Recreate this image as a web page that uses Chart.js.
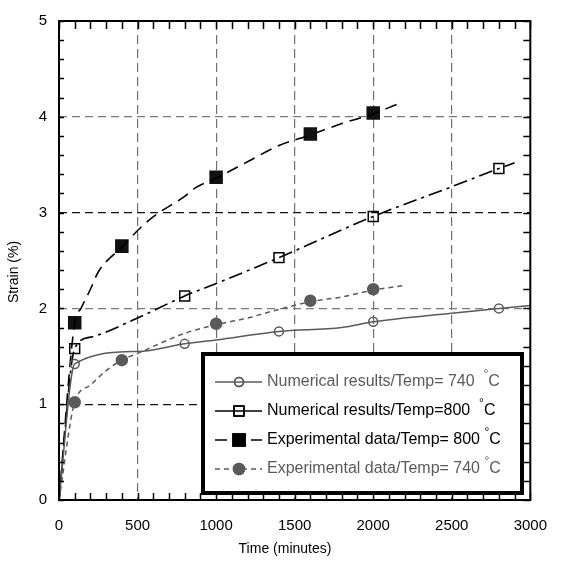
<!DOCTYPE html>
<html>
<head>
<meta charset="utf-8">
<script src="https://cdn.jsdelivr.net/npm/chart.js@4.4.1/dist/chart.umd.min.js"></script>
<style>
  html, body { margin: 0; padding: 0; background: #fff; }
  canvas { display: block; }
</style>
</head>
<body>
<canvas id="canvas" width="564" height="561"></canvas>
<script>
// axis ticks
var xTicks = [0, 500, 1000, 1500, 2000, 2500, 3000];
var yTicks = [0, 1, 2, 3, 4, 5];

// curves, [time (min), strain (%)]
var num740Curve = [[0,0],[100,1.42],[500,1.55],[800,1.63],[1000,1.67],[1400,1.76],[1800,1.80],[2000,1.86],[2500,1.95],[2800,2.0],[3000,2.03]];
var num740Marks = [[100,1.42],[800,1.63],[1400,1.76],[2000,1.86],[2800,2.0]];

var num800Curve = [[0,0],[100,1.58],[200,1.7],[500,1.9],[800,2.13],[1000,2.26],[1400,2.53],[1800,2.82],[2000,2.96],[2500,3.27],[2800,3.46],[2900,3.52]];
var num800Marks = [[100,1.58],[800,2.13],[1400,2.53],[2000,2.96],[2800,3.46]];

var exp800Curve = [[0,0],[100,1.85],[140,2.0],[200,2.2],[250,2.38],[400,2.64],[530,2.86],[620,2.98],[800,3.17],[870,3.26],[1000,3.36],[1200,3.53],[1400,3.7],[1600,3.81],[1800,3.93],[2000,4.03],[2150,4.13]];
var exp800Marks = [[100,1.85],[400,2.65],[1000,3.37],[1600,3.82],[2000,4.04]];

var exp740Curve = [[0,0],[100,1.02],[200,1.2],[300,1.35],[400,1.46],[500,1.53],[800,1.74],[1000,1.83],[1200,1.9],[1400,1.99],[1600,2.07],[1800,2.12],[2000,2.19],[2200,2.24]];
var exp740Marks = [[100,1.02],[400,1.46],[1000,1.84],[1600,2.08],[2000,2.2]];

var legendLabels = [
   ['Numerical results/Temp= 740  ', '°', 'C'],
   ['Numerical results/Temp=800  ', '°', 'C'],
   ['Experimental data/Temp= 800 ', '°', 'C'],
   ['Experimental data/Temp= 740 ', '°', 'C']
];

var FONT = '"Liberation Sans", Arial, sans-serif';
var GRAY = '#5a5a5a';

function pts(a){
   return a.map(function(p){ return {x: p[0], y: p[1]}; });
}

function lineSet(curve, color, dash, width){
   return {
      data: pts(curve), showLine: true, borderColor: color, borderWidth: width,
      borderDash: dash, pointRadius: 0, pointHoverRadius: 0,
      cubicInterpolationMode: 'monotone', fill: false
   };
}

function markSet(marks, color, style, radius, filled){
   return {
      data: pts(marks), showLine: false, pointStyle: style, pointRadius: radius,
      pointHoverRadius: radius, borderColor: color, pointBorderWidth: 1.5,
      backgroundColor: filled ? color : 'rgba(0,0,0,0)'
   };
}

// legend rows: line color, dash, marker
var legendRows = [
   {color: GRAY, dash: [], style: 'circle', radius: 4.5, filled: false, text: GRAY},
   {color: '#000', dash: [], style: 'rect', radius: 7, filled: false, text: '#000'},
   {color: '#000', dash: [12, 6], style: 'rect', radius: 8.5, filled: true, text: '#000'},
   {color: GRAY, dash: [5, 4], style: 'circle', radius: 5.5, filled: true, text: GRAY}
];

var framePlugin = {
   id: 'frame',
   afterDatasetsDraw: function(chart){
      var ctx = chart.ctx, a = chart.chartArea;
      var xs = chart.scales.x, ys = chart.scales.y;
      ctx.save();
      ctx.strokeStyle = '#000';
      ctx.lineWidth = 1.5;
      ctx.beginPath();
      // inward ticks, minor every 100 min and 0.2 %
      for (var t = 0; t <= 3000; t += 100) {
         var px = Math.round(xs.getPixelForValue(t)) + 0.5;
         ctx.moveTo(px, a.bottom); ctx.lineTo(px, a.bottom - 7);
         ctx.moveTo(px, a.top); ctx.lineTo(px, a.top + 8);
      }
      for (var v = 0; v <= 5.001; v += 0.2) {
         var py = Math.round(ys.getPixelForValue(v)) + 0.5;
         ctx.moveTo(a.left, py); ctx.lineTo(a.left + 5, py);
         ctx.moveTo(a.right, py); ctx.lineTo(a.right - 7, py);
      }
      ctx.stroke();
      ctx.lineWidth = 2;
      ctx.strokeRect(a.left, a.top, a.right - a.left, a.bottom - a.top);
      ctx.restore();
   },
   afterDraw: function(chart){
      var ctx = chart.ctx;
      ctx.save();
      // axis titles
      ctx.fillStyle = '#000';
      ctx.font = '14px ' + FONT;
      ctx.textAlign = 'center';
      ctx.textBaseline = 'middle';
      ctx.fillText('Time (minutes)', 285, 549);
      ctx.save();
      ctx.translate(14, 272);
      ctx.rotate(-Math.PI / 2);
      ctx.fillText('Strain (%)', 0, 0);
      ctx.restore();

      // legend box
      var bx = 203, by = 354, bw = 319, bh = 139;
      ctx.fillStyle = '#fff';
      ctx.fillRect(bx, by, bw, bh);
      ctx.lineWidth = 4;
      ctx.strokeStyle = '#000';
      ctx.strokeRect(bx, by, bw, bh);

      legendRows.forEach(function(r, i){
         var y = 382 + i * 29;
         ctx.save();
         ctx.strokeStyle = r.color;
         ctx.lineWidth = 1.5;
         ctx.setLineDash(r.dash);
         ctx.beginPath();
         ctx.moveTo(215, y); ctx.lineTo(262, y);
         ctx.stroke();
         ctx.setLineDash([]);
         ctx.fillStyle = r.filled ? r.color : 'rgba(0,0,0,0)';
         Chart.helpers.drawPoint(ctx, {pointStyle: r.style, radius: r.radius, borderWidth: 1.5, rotation: 0}, 239, y);
         if (r.filled) ctx.fill();
         ctx.stroke();
         ctx.restore();

         var lab = legendLabels[i];
         ctx.fillStyle = r.text;
         ctx.textAlign = 'left';
         ctx.textBaseline = 'middle';
         ctx.font = '16px ' + FONT;
         ctx.fillText(lab[0], 267, y);
         var w = ctx.measureText(lab[0]).width;
         ctx.font = '12px ' + FONT;
         ctx.fillText(lab[1], 267 + w, y - 7);
         var w2 = ctx.measureText(lab[1]).width;
         ctx.font = '16px ' + FONT;
         ctx.fillText(lab[2], 267 + w + w2, y);
      });
      ctx.restore();
   }
};

function initChart(){
   var config = {
      type: 'scatter',
      data: {
         datasets: [
            lineSet(num740Curve, GRAY, [], 1.5),
            markSet(num740Marks, GRAY, 'circle', 4.5, false),
            lineSet(num800Curve, '#000', [14, 5, 3, 5], 1.6),
            markSet(num800Marks, '#000', 'rect', 7, false),
            lineSet(exp800Curve, '#000', [12, 7], 1.6),
            markSet(exp800Marks, '#111', 'rect', 8.5, true),
            lineSet(exp740Curve, GRAY, [5, 4], 1.5),
            markSet(exp740Marks, GRAY, 'circle', 5.5, true)
         ]
      },
      options: {
         responsive: false,
         animation: false,
         layout: { padding: { top: 14, right: 19, left: 0, bottom: 0 } },
         plugins: { legend: { display: false }, tooltip: { enabled: false } },
         scales: {
            x: {
               type: 'linear', min: 0, max: 3000,
               afterBuildTicks: function(s){ s.ticks = xTicks.map(function(v){ return {value: v}; }); },
               afterFit: function(s){ s.height = 61; },
               ticks: {
                  color: '#000', padding: 17, maxRotation: 0, font: { size: 15, family: FONT },
                  callback: function(v){ return String(v); }
               },
               grid: {
                  drawTicks: false, lineWidth: 1.2,
                  color: function(c){ return (c.tick && (c.tick.value === 0 || c.tick.value === 3000)) ? 'rgba(0,0,0,0)' : '#707070'; }
               },
               border: { display: false, dash: [9, 5] }
            },
            y: {
               type: 'linear', min: 0, max: 5,
               afterBuildTicks: function(s){ s.ticks = yTicks.map(function(v){ return {value: v}; }); },
               afterFit: function(s){ s.width = 59; },
               ticks: {
                  color: '#000', padding: 12, font: { size: 15, family: FONT },
                  callback: function(v){ return String(v); }
               },
               grid: {
                  drawTicks: false, lineWidth: 1.2,
                  color: function(c){
                     var v = c.tick ? c.tick.value : 0;
                     if (v === 0 || v === 5) return 'rgba(0,0,0,0)';
                     return (v === 2 || v === 4) ? '#7a7a7a' : '#111';
                  }
               },
               border: { display: false, dash: [8, 5] }
            }
         }
      },
      plugins: [framePlugin]
   };
   window.strainChart = new Chart(document.getElementById('canvas'), config);
}

initChart();
</script>
</body>
</html>
